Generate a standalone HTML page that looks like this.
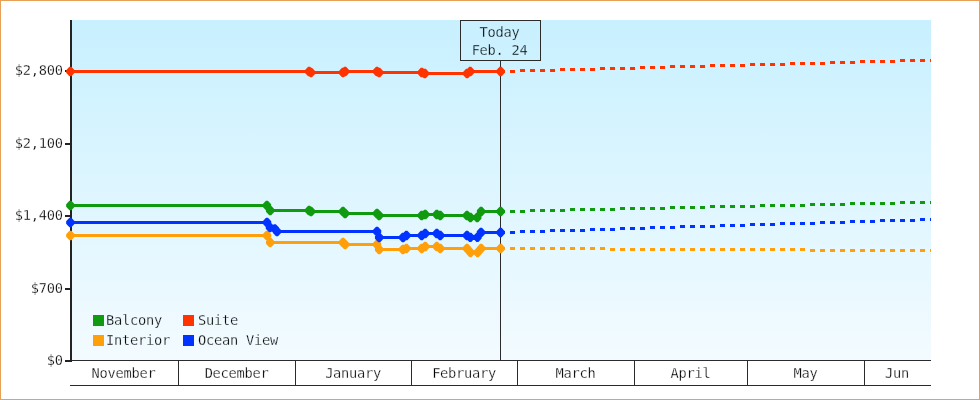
<!DOCTYPE html>
<html lang="en"><head><meta charset="utf-8"><title>Price chart</title>
<style>html,body{margin:0;padding:0;background:#fff}body{width:980px;height:400px;overflow:hidden}#chart{position:relative;width:980px;height:400px;box-sizing:border-box;border:1px solid #e8a056;background:#fff}svg{position:absolute;left:-1px;top:-1px;display:block}svg text{font-family:"DejaVu Sans Mono", "Liberation Mono", monospace;font-size:13.7px;letter-spacing:-0.25px;fill:#000;stroke:#fff;stroke-width:0.26px}svg text.lg{stroke:#eefaff}svg text.td{stroke:#caf0ff}</style></head><body><div id="chart">
<svg width="980" height="400" viewBox="0 0 980 400">
<defs><linearGradient id="bg" x1="0" y1="0" x2="0" y2="1"><stop offset="0" stop-color="#c8f0ff"/><stop offset="1" stop-color="#f3fbff"/></linearGradient><clipPath id="plot"><rect x="66" y="20" width="865" height="341"/></clipPath></defs>
<rect x="72" y="20" width="859" height="340" fill="url(#bg)"/>
<g fill="#232323" shape-rendering="crispEdges">
<rect x="70" y="20" width="2" height="342"/>
<rect x="65" y="70" width="5" height="2"/>
<rect x="65" y="143" width="5" height="2"/>
<rect x="65" y="215" width="5" height="2"/>
<rect x="65" y="288" width="5" height="2"/>
<rect x="65" y="360" width="5" height="2"/>
</g>
<g fill="#2b2b2b" shape-rendering="crispEdges">
<rect x="72" y="360" width="859" height="1"/>
<rect x="70" y="385" width="861" height="1"/>
<rect x="178" y="360" width="1" height="26"/>
<rect x="295" y="360" width="1" height="26"/>
<rect x="411" y="360" width="1" height="26"/>
<rect x="517" y="360" width="1" height="26"/>
<rect x="634" y="360" width="1" height="26"/>
<rect x="747" y="360" width="1" height="26"/>
<rect x="864" y="360" width="1" height="26"/>
<rect x="500" y="60" width="1" height="300"/>
</g>
<rect x="460.5" y="20.5" width="80" height="40" fill="none" stroke="#2b2b2b" stroke-width="1" shape-rendering="crispEdges"/>
<text x="62.8" y="75" text-anchor="end">$2,800</text>
<text x="62.8" y="148" text-anchor="end">$2,100</text>
<text x="62.8" y="220" text-anchor="end">$1,400</text>
<text x="62.8" y="292.6" text-anchor="end">$700</text>
<text x="62.8" y="364.8" text-anchor="end">$0</text>
<text x="123.5" y="378" text-anchor="middle">November</text>
<text x="236.6" y="378" text-anchor="middle">December</text>
<text x="353.1" y="378" text-anchor="middle">January</text>
<text x="464.1" y="378" text-anchor="middle">February</text>
<text x="575.6" y="378" text-anchor="middle">March</text>
<text x="690.6" y="378" text-anchor="middle">April</text>
<text x="805.6" y="378" text-anchor="middle">May</text>
<text x="896.9" y="378" text-anchor="middle">Jun</text>
<text class="td" x="499.6" y="37" text-anchor="middle">Today</text>
<text class="td" x="499.6" y="55" text-anchor="middle">Feb. 24</text>
<g clip-path="url(#plot)">
<path fill="#0f9a10" shape-rendering="crispEdges" d="M500 210h5v3h-5zM510 210h5v3h-5zM520 210h5v3h-5zM530 209h5v3h-5zM540 209h5v3h-5zM550 209h5v3h-5zM560 209h5v3h-5zM570 208h5v3h-5zM580 208h5v3h-5zM590 208h5v3h-5zM600 208h5v3h-5zM610 208h5v3h-5zM620 207h5v3h-5zM630 207h5v3h-5zM640 207h5v3h-5zM650 207h5v3h-5zM660 207h5v3h-5zM670 206h5v3h-5zM680 206h5v3h-5zM690 206h5v3h-5zM700 206h5v3h-5zM710 205h5v3h-5zM720 205h5v3h-5zM730 205h5v3h-5zM740 205h5v3h-5zM750 205h5v3h-5zM760 204h5v3h-5zM770 204h5v3h-5zM780 204h5v3h-5zM790 204h5v3h-5zM800 204h5v3h-5zM810 203h5v3h-5zM820 203h5v3h-5zM830 203h5v3h-5zM840 203h5v3h-5zM850 202h5v3h-5zM860 202h5v3h-5zM870 202h5v3h-5zM880 202h5v3h-5zM890 202h5v3h-5zM900 201h5v3h-5zM910 201h5v3h-5zM920 201h5v3h-5zM930 201h1v3h-1z"/>
<path fill="#ffa00a" shape-rendering="crispEdges" d="M500 247h5v3h-5zM510 247h5v3h-5zM520 247h5v3h-5zM530 247h5v3h-5zM540 247h5v3h-5zM550 247h5v3h-5zM560 247h5v3h-5zM570 247h5v3h-5zM580 247h5v3h-5zM590 247h5v3h-5zM600 247h5v3h-5zM610 248h5v3h-5zM620 248h5v3h-5zM630 248h5v3h-5zM640 248h5v3h-5zM650 248h5v3h-5zM660 248h5v3h-5zM670 248h5v3h-5zM680 248h5v3h-5zM690 248h5v3h-5zM700 248h5v3h-5zM710 248h5v3h-5zM720 248h5v3h-5zM730 248h5v3h-5zM740 248h5v3h-5zM750 248h5v3h-5zM760 248h5v3h-5zM770 248h5v3h-5zM780 248h5v3h-5zM790 248h5v3h-5zM800 248h5v3h-5zM810 249h5v3h-5zM820 249h5v3h-5zM830 249h5v3h-5zM840 249h5v3h-5zM850 249h5v3h-5zM860 249h5v3h-5zM870 249h5v3h-5zM880 249h5v3h-5zM890 249h5v3h-5zM900 249h5v3h-5zM910 249h5v3h-5zM920 249h5v3h-5zM930 249h1v3h-1z"/>
<path fill="#ff3300" shape-rendering="crispEdges" d="M500 70h5v3h-5zM510 70h5v3h-5zM520 69h5v3h-5zM530 69h5v3h-5zM540 69h5v3h-5zM550 69h5v3h-5zM560 68h5v3h-5zM570 68h5v3h-5zM580 68h5v3h-5zM590 68h5v3h-5zM600 67h5v3h-5zM610 67h5v3h-5zM620 67h5v3h-5zM630 67h5v3h-5zM640 66h5v3h-5zM650 66h5v3h-5zM660 66h5v3h-5zM670 65h5v3h-5zM680 65h5v3h-5zM690 65h5v3h-5zM700 65h5v3h-5zM710 64h5v3h-5zM720 64h5v3h-5zM730 64h5v3h-5zM740 64h5v3h-5zM750 63h5v3h-5zM760 63h5v3h-5zM770 63h5v3h-5zM780 63h5v3h-5zM790 62h5v3h-5zM800 62h5v3h-5zM810 62h5v3h-5zM820 62h5v3h-5zM830 61h5v3h-5zM840 61h5v3h-5zM850 61h5v3h-5zM860 60h5v3h-5zM870 60h5v3h-5zM880 60h5v3h-5zM890 60h5v3h-5zM900 59h5v3h-5zM910 59h5v3h-5zM920 59h5v3h-5zM930 59h1v3h-1z"/>
<path fill="#0033ff" shape-rendering="crispEdges" d="M500 231h5v3h-5zM510 231h5v3h-5zM520 230h5v3h-5zM530 230h5v3h-5zM540 230h5v3h-5zM550 229h5v3h-5zM560 229h5v3h-5zM570 229h5v3h-5zM580 229h5v3h-5zM590 228h5v3h-5zM600 228h5v3h-5zM610 228h5v3h-5zM620 227h5v3h-5zM630 227h5v3h-5zM640 227h5v3h-5zM650 226h5v3h-5zM660 226h5v3h-5zM670 226h5v3h-5zM680 225h5v3h-5zM690 225h5v3h-5zM700 225h5v3h-5zM710 225h5v3h-5zM720 224h5v3h-5zM730 224h5v3h-5zM740 224h5v3h-5zM750 223h5v3h-5zM760 223h5v3h-5zM770 223h5v3h-5zM780 222h5v3h-5zM790 222h5v3h-5zM800 222h5v3h-5zM810 222h5v3h-5zM820 221h5v3h-5zM830 221h5v3h-5zM840 221h5v3h-5zM850 220h5v3h-5zM860 220h5v3h-5zM870 220h5v3h-5zM880 219h5v3h-5zM890 219h5v3h-5zM900 219h5v3h-5zM910 219h5v3h-5zM920 218h5v3h-5zM930 218h1v3h-1z"/>
<polyline fill="none" stroke="#0f9a10" stroke-width="3" stroke-linejoin="round" points="70.4,205.5 266.9,205.5 270.2,210.5 309.1,210.5 311.0,211.5 343.0,211.5 345.1,213.5 377.0,213.5 379.1,215.5 421.7,215.5 425.2,214.5 436.8,214.5 440.2,215.5 467,215.5 470.4,217.5 477.2,217.5 481.1,211.5 500.6,211.5"/>
<polyline fill="none" stroke="#ffa00a" stroke-width="3" stroke-linejoin="round" points="70.4,235.5 267,235.5 270.2,242.5 343.0,242.5 345.1,244.5 377,244.5 379.2,249.5 403,249.5 406.4,248.5 421.7,248.5 425.2,246.5 436.8,246.5 440.2,248.5 467,248.5 470.5,252.5 477.6,252.5 481.1,248.5 500.6,248.5"/>
<polyline fill="none" stroke="#ff3300" stroke-width="3" stroke-linejoin="round" points="70.4,71.5 309.1,71.5 311.0,72.5 343.0,72.5 345.1,71.5 377.0,71.5 379.1,72.5 421.8,72.5 424.8,73.5 467.1,73.5 470.2,71.5 500.6,71.5"/>
<polyline fill="none" stroke="#0033ff" stroke-width="3" stroke-linejoin="round" points="70.4,222.5 267,222.5 270,227.5 274.8,228.8 277,231.5 377,231.5 379.2,237.5 403,237.5 406.4,235.5 421.7,235.5 425.2,233.5 436.8,233.5 440.2,235.5 467,235.5 470.3,237.3 477.4,237.3 481,232.5 500.6,232.5"/>
</g>
<path fill="#0f9a10" d="M66.15 204.20L69.40 200.85L71.40 200.85L74.65 204.20L74.65 206.80L71.40 210.15L69.40 210.15L66.15 206.80ZM262.65 204.20L265.90 200.85L267.90 200.85L271.15 204.20L271.15 206.80L267.90 210.15L265.90 210.15L262.65 206.80ZM265.95 209.20L269.20 205.85L271.20 205.85L274.45 209.20L274.45 211.80L271.20 215.15L269.20 215.15L265.95 211.80ZM304.85 209.20L308.10 205.85L310.10 205.85L313.35 209.20L313.35 211.80L310.10 215.15L308.10 215.15L304.85 211.80ZM306.75 210.20L310.00 206.85L312.00 206.85L315.25 210.20L315.25 212.80L312.00 216.15L310.00 216.15L306.75 212.80ZM338.75 210.20L342.00 206.85L344.00 206.85L347.25 210.20L347.25 212.80L344.00 216.15L342.00 216.15L338.75 212.80ZM340.85 212.20L344.10 208.85L346.10 208.85L349.35 212.20L349.35 214.80L346.10 218.15L344.10 218.15L340.85 214.80ZM372.75 212.20L376.00 208.85L378.00 208.85L381.25 212.20L381.25 214.80L378.00 218.15L376.00 218.15L372.75 214.80ZM374.85 214.20L378.10 210.85L380.10 210.85L383.35 214.20L383.35 216.80L380.10 220.15L378.10 220.15L374.85 216.80ZM417.45 214.20L420.70 210.85L422.70 210.85L425.95 214.20L425.95 216.80L422.70 220.15L420.70 220.15L417.45 216.80ZM420.95 213.20L424.20 209.85L426.20 209.85L429.45 213.20L429.45 215.80L426.20 219.15L424.20 219.15L420.95 215.80ZM432.55 213.20L435.80 209.85L437.80 209.85L441.05 213.20L441.05 215.80L437.80 219.15L435.80 219.15L432.55 215.80ZM435.95 214.20L439.20 210.85L441.20 210.85L444.45 214.20L444.45 216.80L441.20 220.15L439.20 220.15L435.95 216.80ZM462.75 214.20L466.00 210.85L468.00 210.85L471.25 214.20L471.25 216.80L468.00 220.15L466.00 220.15L462.75 216.80ZM466.15 216.20L469.40 212.85L471.40 212.85L474.65 216.20L474.65 218.80L471.40 222.15L469.40 222.15L466.15 218.80ZM472.95 216.20L476.20 212.85L478.20 212.85L481.45 216.20L481.45 218.80L478.20 222.15L476.20 222.15L472.95 218.80ZM476.85 210.20L480.10 206.85L482.10 206.85L485.35 210.20L485.35 212.80L482.10 216.15L480.10 216.15L476.85 212.80ZM496.35 210.20L499.60 206.85L501.60 206.85L504.85 210.20L504.85 212.80L501.60 216.15L499.60 216.15L496.35 212.80Z"/>
<path fill="#ffa00a" d="M66.15 234.20L69.40 230.85L71.40 230.85L74.65 234.20L74.65 236.80L71.40 240.15L69.40 240.15L66.15 236.80ZM262.75 234.20L266.00 230.85L268.00 230.85L271.25 234.20L271.25 236.80L268.00 240.15L266.00 240.15L262.75 236.80ZM265.95 241.20L269.20 237.85L271.20 237.85L274.45 241.20L274.45 243.80L271.20 247.15L269.20 247.15L265.95 243.80ZM338.75 241.20L342.00 237.85L344.00 237.85L347.25 241.20L347.25 243.80L344.00 247.15L342.00 247.15L338.75 243.80ZM340.85 243.20L344.10 239.85L346.10 239.85L349.35 243.20L349.35 245.80L346.10 249.15L344.10 249.15L340.85 245.80ZM372.75 243.20L376.00 239.85L378.00 239.85L381.25 243.20L381.25 245.80L378.00 249.15L376.00 249.15L372.75 245.80ZM374.95 248.20L378.20 244.85L380.20 244.85L383.45 248.20L383.45 250.80L380.20 254.15L378.20 254.15L374.95 250.80ZM398.75 248.20L402.00 244.85L404.00 244.85L407.25 248.20L407.25 250.80L404.00 254.15L402.00 254.15L398.75 250.80ZM402.15 247.20L405.40 243.85L407.40 243.85L410.65 247.20L410.65 249.80L407.40 253.15L405.40 253.15L402.15 249.80ZM417.45 247.20L420.70 243.85L422.70 243.85L425.95 247.20L425.95 249.80L422.70 253.15L420.70 253.15L417.45 249.80ZM420.95 245.20L424.20 241.85L426.20 241.85L429.45 245.20L429.45 247.80L426.20 251.15L424.20 251.15L420.95 247.80ZM432.55 245.20L435.80 241.85L437.80 241.85L441.05 245.20L441.05 247.80L437.80 251.15L435.80 251.15L432.55 247.80ZM435.95 247.20L439.20 243.85L441.20 243.85L444.45 247.20L444.45 249.80L441.20 253.15L439.20 253.15L435.95 249.80ZM462.75 247.20L466.00 243.85L468.00 243.85L471.25 247.20L471.25 249.80L468.00 253.15L466.00 253.15L462.75 249.80ZM466.25 251.20L469.50 247.85L471.50 247.85L474.75 251.20L474.75 253.80L471.50 257.15L469.50 257.15L466.25 253.80ZM473.35 251.20L476.60 247.85L478.60 247.85L481.85 251.20L481.85 253.80L478.60 257.15L476.60 257.15L473.35 253.80ZM476.85 247.20L480.10 243.85L482.10 243.85L485.35 247.20L485.35 249.80L482.10 253.15L480.10 253.15L476.85 249.80ZM496.35 247.20L499.60 243.85L501.60 243.85L504.85 247.20L504.85 249.80L501.60 253.15L499.60 253.15L496.35 249.80Z"/>
<path fill="#ff3300" d="M66.15 70.20L69.40 66.85L71.40 66.85L74.65 70.20L74.65 72.80L71.40 76.15L69.40 76.15L66.15 72.80ZM304.85 70.20L308.10 66.85L310.10 66.85L313.35 70.20L313.35 72.80L310.10 76.15L308.10 76.15L304.85 72.80ZM306.75 71.20L310.00 67.85L312.00 67.85L315.25 71.20L315.25 73.80L312.00 77.15L310.00 77.15L306.75 73.80ZM338.75 71.20L342.00 67.85L344.00 67.85L347.25 71.20L347.25 73.80L344.00 77.15L342.00 77.15L338.75 73.80ZM340.85 70.20L344.10 66.85L346.10 66.85L349.35 70.20L349.35 72.80L346.10 76.15L344.10 76.15L340.85 72.80ZM372.75 70.20L376.00 66.85L378.00 66.85L381.25 70.20L381.25 72.80L378.00 76.15L376.00 76.15L372.75 72.80ZM374.85 71.20L378.10 67.85L380.10 67.85L383.35 71.20L383.35 73.80L380.10 77.15L378.10 77.15L374.85 73.80ZM417.55 71.20L420.80 67.85L422.80 67.85L426.05 71.20L426.05 73.80L422.80 77.15L420.80 77.15L417.55 73.80ZM420.55 72.20L423.80 68.85L425.80 68.85L429.05 72.20L429.05 74.80L425.80 78.15L423.80 78.15L420.55 74.80ZM462.85 72.20L466.10 68.85L468.10 68.85L471.35 72.20L471.35 74.80L468.10 78.15L466.10 78.15L462.85 74.80ZM465.95 70.20L469.20 66.85L471.20 66.85L474.45 70.20L474.45 72.80L471.20 76.15L469.20 76.15L465.95 72.80ZM496.35 70.20L499.60 66.85L501.60 66.85L504.85 70.20L504.85 72.80L501.60 76.15L499.60 76.15L496.35 72.80Z"/>
<path fill="#0033ff" d="M66.15 221.20L69.40 217.85L71.40 217.85L74.65 221.20L74.65 223.80L71.40 227.15L69.40 227.15L66.15 223.80ZM262.75 221.20L266.00 217.85L268.00 217.85L271.25 221.20L271.25 223.80L268.00 227.15L266.00 227.15L262.75 223.80ZM265.75 226.20L269.00 222.85L271.00 222.85L274.25 226.20L274.25 228.80L271.00 232.15L269.00 232.15L265.75 228.80ZM270.55 227.50L273.80 224.15L275.80 224.15L279.05 227.50L279.05 230.10L275.80 233.45L273.80 233.45L270.55 230.10ZM272.75 230.20L276.00 226.85L278.00 226.85L281.25 230.20L281.25 232.80L278.00 236.15L276.00 236.15L272.75 232.80ZM372.75 230.20L376.00 226.85L378.00 226.85L381.25 230.20L381.25 232.80L378.00 236.15L376.00 236.15L372.75 232.80ZM374.95 236.20L378.20 232.85L380.20 232.85L383.45 236.20L383.45 238.80L380.20 242.15L378.20 242.15L374.95 238.80ZM398.75 236.20L402.00 232.85L404.00 232.85L407.25 236.20L407.25 238.80L404.00 242.15L402.00 242.15L398.75 238.80ZM402.15 234.20L405.40 230.85L407.40 230.85L410.65 234.20L410.65 236.80L407.40 240.15L405.40 240.15L402.15 236.80ZM417.45 234.20L420.70 230.85L422.70 230.85L425.95 234.20L425.95 236.80L422.70 240.15L420.70 240.15L417.45 236.80ZM420.95 232.20L424.20 228.85L426.20 228.85L429.45 232.20L429.45 234.80L426.20 238.15L424.20 238.15L420.95 234.80ZM432.55 232.20L435.80 228.85L437.80 228.85L441.05 232.20L441.05 234.80L437.80 238.15L435.80 238.15L432.55 234.80ZM435.95 234.20L439.20 230.85L441.20 230.85L444.45 234.20L444.45 236.80L441.20 240.15L439.20 240.15L435.95 236.80ZM462.75 234.20L466.00 230.85L468.00 230.85L471.25 234.20L471.25 236.80L468.00 240.15L466.00 240.15L462.75 236.80ZM466.05 236.00L469.30 232.65L471.30 232.65L474.55 236.00L474.55 238.60L471.30 241.95L469.30 241.95L466.05 238.60ZM473.15 236.00L476.40 232.65L478.40 232.65L481.65 236.00L481.65 238.60L478.40 241.95L476.40 241.95L473.15 238.60ZM476.75 231.20L480.00 227.85L482.00 227.85L485.25 231.20L485.25 233.80L482.00 237.15L480.00 237.15L476.75 233.80ZM496.35 231.20L499.60 227.85L501.60 227.85L504.85 231.20L504.85 233.80L501.60 237.15L499.60 237.15L496.35 233.80Z"/>
<rect x="93" y="315" width="11" height="11" fill="#0f9a10" shape-rendering="crispEdges"/>
<text class="lg" x="106" y="324.8">Balcony</text>
<rect x="183" y="315" width="11" height="11" fill="#ff3300" shape-rendering="crispEdges"/>
<text class="lg" x="198" y="324.8">Suite</text>
<rect x="93" y="335" width="11" height="11" fill="#ffa00a" shape-rendering="crispEdges"/>
<text class="lg" x="106" y="344.8">Interior</text>
<rect x="183" y="335" width="11" height="11" fill="#0033ff" shape-rendering="crispEdges"/>
<text class="lg" x="198" y="344.8">Ocean View</text>
</svg></div></body></html>
